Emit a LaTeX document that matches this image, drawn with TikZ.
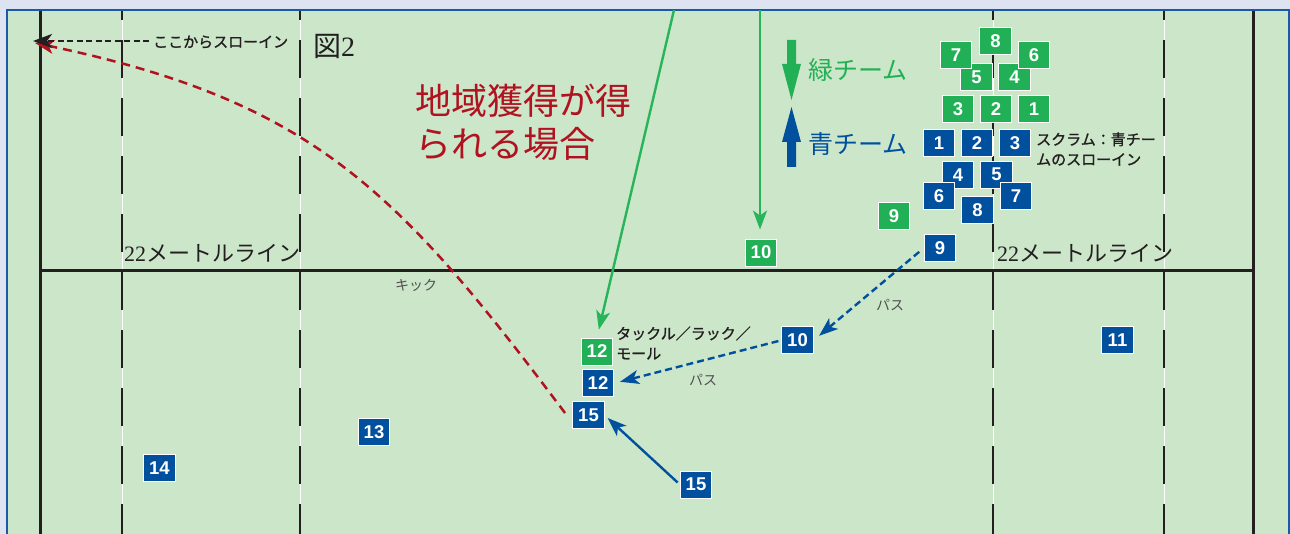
\documentclass[tikz,border=0pt]{standalone}
\usepackage{fontspec}
\setmainfont{Liberation Sans}
\newfontfamily\jp{Noto Sans CJK JP}
\newfontfamily\jpb[FakeBold=1.2]{Noto Sans CJK JP}
\newfontfamily\serifnum{Liberation Serif}
\usetikzlibrary{arrows.meta}
\definecolor{outerbg}{RGB}{221,227,240}
\definecolor{field}{RGB}{204,230,201}
\definecolor{frame}{RGB}{24,90,168}
\definecolor{gteam}{RGB}{34,176,86}
\definecolor{gline}{RGB}{40,180,90}
\definecolor{bteam}{RGB}{0,80,158}
\definecolor{kred}{RGB}{176,18,32}
\definecolor{ink}{RGB}{35,31,32}
\definecolor{graytext}{RGB}{80,80,80}
\begin{document}
\begin{tikzpicture}[x=1pt,y=-1pt,
  player/.style={rectangle,minimum width=31.5pt,minimum height=27pt,inner sep=0pt,
    draw=white,line width=0.9pt,text=white,font=\fontsize{18.5}{18}\selectfont\bfseries},
  gp/.style={player,fill=gteam},
  bp/.style={player,fill=bteam},
  tip/.style={-{Stealth[length=19pt,width=14pt,inset=5pt]}},
  greenrun/.style={tip,draw=gline,line width=2.4pt},
  bluepass/.style={tip,draw=bteam,line width=2.4pt,dash pattern=on 7pt off 4pt},
  bluerun/.style={tip,draw=bteam,line width=2.4pt},
  kickline/.style={tip,draw=kred,line width=2.5pt,dash pattern=on 9pt off 6pt},
  throwline/.style={tip,draw=ink,line width=2pt,dash pattern=on 6pt off 3.5pt},
  fieldline/.style={draw=ink,line width=3pt},
  fivem/.style={draw=ink,line width=1.8pt,dash pattern=on 38pt off 20pt,dash phase=29pt},
  smalljp/.style={font=\jpb\fontsize{15}{20}\selectfont,text=ink,inner sep=0pt},
  thinjp/.style={font=\jp\fontsize{14}{16}\selectfont,text=graytext,inner sep=0pt},
  linelabel/.style={font=\fontsize{22}{24}\selectfont,text=ink,inner sep=0pt,anchor=west}
]
\useasboundingbox (0,0) rectangle (1290,534);
\fill[outerbg] (0,0) rectangle (1290,534);
\fill[field] (7,10) rectangle (1289,534);
\draw[frame,line width=2.2pt] (7,534) -- (7,10) -- (1289,10) -- (1289,534);

% field lines
\foreach \xx in {122,300,993,1164}{
  \draw[white,line width=1pt] (\xx,11) -- (\xx,534);
  \draw[fivem] (\xx,11) -- (\xx,534);
}
\draw[fieldline] (40,11) -- (40,534);
\draw[fieldline] (1253,11) -- (1253,534);
\draw[fieldline] (40,271) -- (1253,271);

% line labels
\node[linelabel] (l22a) at (124,253) {\serifnum 22\jp メートルライン};
\node[linelabel] (l22b) at (997,253) {\serifnum 22\jp メートルライン};
\node[font=\fontsize{28}{30}\selectfont,text=ink,inner sep=0pt,anchor=west] (fig) at (313,46) {\jp 図\serifnum 2};
\node[font=\jpb\fontsize{15}{18}\selectfont,text=ink,inner sep=0pt,anchor=west] (throwtxt) at (153,42) {ここからスローイン};

% title
\node[font=\jp\fontsize{36}{43}\selectfont,text=kred,align=left,inner sep=0pt,anchor=north west] (title) at (415,84) {地域獲得が得\\られる場合};

% legend
\fill[gteam] (787,40) rectangle (796,64) -- (801,64) -- (791.5,100) -- (782,64) -- (787,64) -- cycle;
\fill[bteam] (787,167) rectangle (796,142) -- (801,142) -- (791.5,107) -- (782,142) -- (787,142) -- cycle;
\node[font=\jp\fontsize{25}{27}\selectfont,text=gteam,inner sep=0pt,anchor=west] (lgreen) at (808,70) {緑チーム};
\node[font=\jp\fontsize{25}{27}\selectfont,text=bteam,inner sep=0pt,anchor=west] (lblue) at (808,144) {青チーム};

% scrum: green
\node[gp] (g5) at (976.5,77) {5};
\node[gp] (g4) at (1014.6,77) {4};
\node[gp] (g8) at (995.5,41.3) {8};
\node[gp] (g7) at (956,55) {7};
\node[gp] (g6) at (1034,55) {6};
\node[gp] (g3) at (958,108.7) {3};
\node[gp] (g2) at (996,108.7) {2};
\node[gp] (g1) at (1034,108.7) {1};
% scrum: blue
\node[bp] (b1) at (939,143.3) {1};
\node[bp] (b2) at (977,143.3) {2};
\node[bp] (b3) at (1015,143.3) {3};
\node[bp] (b4) at (958,174.7) {4};
\node[bp] (b5) at (996.5,174.7) {5};
\node[bp] (b6) at (939,196.3) {6};
\node[bp] (b7) at (1016,196.3) {7};
\node[bp] (b8) at (977.5,210.3) {8};
\node[gp] (g9) at (894,216.3) {9};
\node[bp] (b9) at (940,248) {9};

\node[smalljp,anchor=west,align=left] (scrumtxt) at (1036,149) {スクラム：青チー\\ムのスローイン};

% other players
\node[gp] (g10) at (761,252.5) {10};
\node[gp] (g12) at (597,351.5) {12};
\node[bp] (b12) at (598,383.3) {12};
\node[bp] (b15a) at (588.5,415.3) {15};
\node[bp] (b15b) at (696,484.5) {15};
\node[bp] (b10) at (797.5,340.3) {10};
\node[bp] (b11) at (1117.5,340.3) {11};
\node[bp] (b13) at (374,432) {13};
\node[bp] (b14) at (159.5,467.8) {14};

\node[smalljp,anchor=west,align=left] (tackle) at (616,343) {タックル／ラック／\\モール};
\node[thinjp] (pass1) at (703,380) {パス};
\node[thinjp] (pass2) at (890,305.5) {パス};
\node[thinjp] (kick) at (416,285) {キック};

% connectors
\coordinate (gtop1) at (674,10);
\coordinate (gtop2) at (760,10);
\draw[greenrun,shorten >=8pt] (gtop1) -- (g12.north);
\draw[greenrun,shorten >=9pt] (gtop2) -- (g10.north -| gtop2);
\draw[bluepass,shorten <=6pt,shorten >=7pt] (b9.west) -- (b10.east);
\draw[bluepass,shorten <=3pt,shorten >=6pt] (b10.west) -- (b12.east);
\draw[bluerun,shorten <=3pt,shorten >=4pt] (b15b.west) -- (b15a.east);

\coordinate (kickstart) at (565,413);
\coordinate (throwin) at (35,43);
\coordinate (arrowstart) at (149,41);
\coordinate (arrowend) at (33,41);
\draw[kickline] (kickstart) .. controls (397,189) and (312,101) .. (throwin);
\draw[throwline] (arrowstart) -- (arrowend);
\end{tikzpicture}
\end{document}
